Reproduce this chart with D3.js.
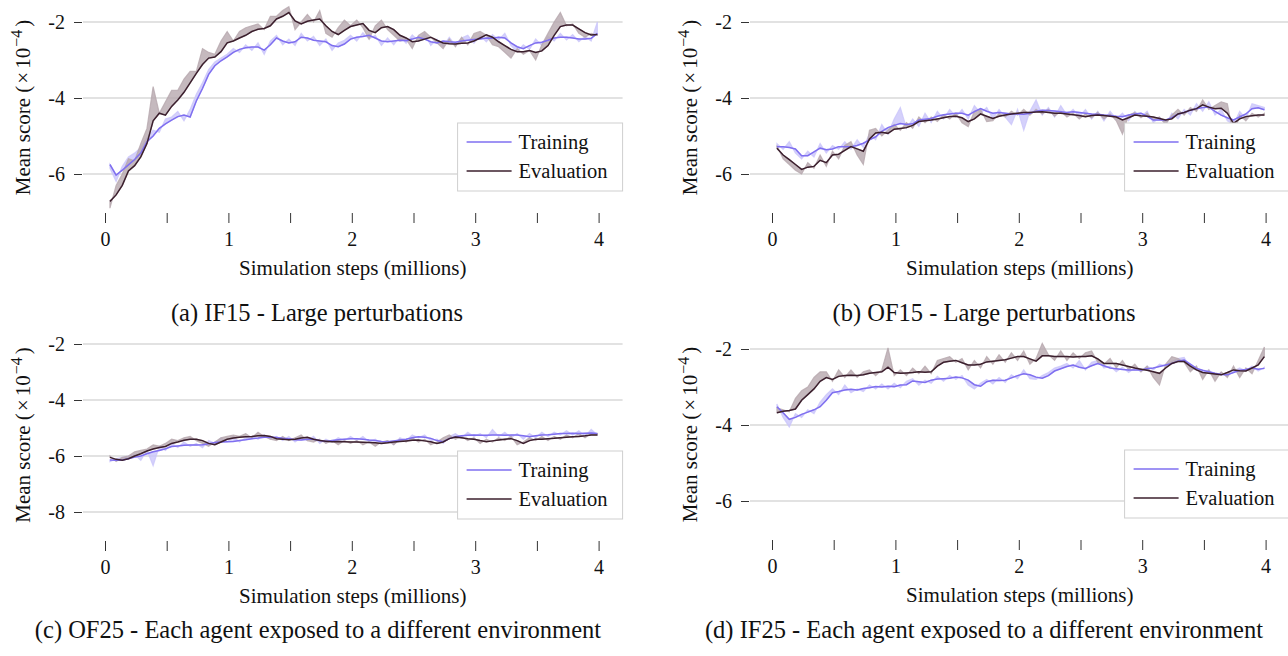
<!DOCTYPE html>
<html><head><meta charset="utf-8">
<script src="https://cdn.jsdelivr.net/npm/d3@7"></script>
<style>
body{margin:0;background:#fff}
svg{display:block}
text{font-family:"Liberation Serif","Times New Roman",serif;fill:#111}
</style>
</head><body>
<svg id="chart" width="1288" height="656"></svg>
<script>
// ---------------- DATA ----------------
const steps = d3.range(80).map(i => +(0.04 + 0.05 * i).toFixed(2)); // millions of simulation steps
const xTicks = [0, 0.5, 1, 1.5, 2, 2.5, 3, 3.5, 4];
const xTickLabels = ["0", "", "1", "", "2", "", "3", "", "4"];
const seriesNames = ["Training", "Evaluation"];
const captions = [
  "(a) IF15 - Large perturbations",
  "(b) OF15 - Large perturbations",
  "(c) OF25 - Each agent exposed to a different environment",
  "(d) IF25 - Each agent exposed to a different environment"
];
const yTicksA = [-2, -4, -6];
const yTicksB = [-2, -4, -6];
const yTicksC = [-2, -4, -6, -8];
const yTicksD = [-2, -4, -6];

// (a) IF15
const aTrainSmooth = [
 -5.75,-6.03,-5.90,-5.76,-5.62,-5.45,-5.15,-5.00,-4.80,-4.68,
 -4.58,-4.49,-4.45,-4.50,-4.08,-3.75,-3.38,-3.15,-3.02,-2.92,
 -2.80,-2.72,-2.68,-2.66,-2.66,-2.74,-2.60,-2.42,-2.50,-2.55,
 -2.52,-2.40,-2.42,-2.48,-2.50,-2.52,-2.62,-2.65,-2.58,-2.45,
 -2.40,-2.38,-2.35,-2.42,-2.50,-2.52,-2.50,-2.48,-2.49,-2.45,
 -2.40,-2.45,-2.52,-2.55,-2.50,-2.52,-2.53,-2.50,-2.48,-2.46,
 -2.45,-2.42,-2.43,-2.40,-2.42,-2.55,-2.65,-2.70,-2.62,-2.55,
 -2.53,-2.48,-2.42,-2.40,-2.40,-2.42,-2.45,-2.45,-2.43,-2.30];
const aTrainRaw = [
 -5.85,-6.20,-5.80,-5.55,-5.45,-5.30,-5.05,-4.85,-4.90,-4.55,
 -4.50,-4.35,-4.60,-4.30,-3.90,-3.60,-3.25,-3.05,-2.95,-2.85,
 -2.70,-2.80,-2.60,-2.75,-2.55,-2.85,-2.50,-2.35,-2.60,-2.45,
 -2.62,-2.30,-2.50,-2.38,-2.62,-2.45,-2.75,-2.55,-2.48,-2.35,
 -2.50,-2.28,-2.45,-2.35,-2.62,-2.42,-2.60,-2.38,-2.56,-2.34,
 -2.50,-2.30,-2.62,-2.45,-2.65,-2.40,-2.62,-2.42,-2.35,-2.56,
 -2.35,-2.52,-2.33,-2.47,-2.30,-2.62,-2.78,-2.60,-2.72,-2.45,
 -2.62,-2.38,-2.50,-2.30,-2.47,-2.33,-2.52,-2.38,-2.50,-2.00];
const aEvalSmooth = [
 -6.72,-6.55,-6.30,-5.92,-5.78,-5.55,-5.20,-4.60,-4.40,-4.45,
 -4.22,-4.05,-3.85,-3.60,-3.35,-3.12,-2.95,-2.92,-2.78,-2.55,
 -2.50,-2.42,-2.35,-2.25,-2.19,-2.17,-2.10,-1.92,-1.85,-1.75,
 -1.97,-2.05,-1.98,-1.95,-1.92,-2.10,-2.25,-2.33,-2.22,-2.12,
 -2.08,-2.04,-2.22,-2.28,-2.15,-2.12,-2.20,-2.35,-2.42,-2.52,
 -2.50,-2.45,-2.40,-2.48,-2.55,-2.57,-2.58,-2.56,-2.55,-2.50,
 -2.42,-2.34,-2.40,-2.52,-2.62,-2.72,-2.78,-2.78,-2.75,-2.80,
 -2.76,-2.62,-2.35,-2.12,-2.08,-2.08,-2.18,-2.28,-2.34,-2.33];
const aEvalRaw = [
 -6.90,-6.30,-6.00,-5.60,-5.65,-5.20,-4.80,-3.70,-4.40,-4.10,
 -3.80,-3.80,-3.50,-3.30,-3.30,-2.70,-2.80,-2.85,-2.50,-2.25,
 -2.50,-2.25,-2.15,-2.10,-2.05,-2.20,-1.85,-1.85,-1.70,-1.60,
 -2.20,-2.00,-1.80,-2.00,-1.70,-2.30,-2.40,-2.15,-1.95,-2.10,
 -1.95,-2.15,-2.45,-2.10,-1.95,-2.20,-2.35,-2.50,-2.45,-2.70,
 -2.35,-2.25,-2.40,-2.55,-2.70,-2.45,-2.65,-2.40,-2.60,-2.30,
 -2.25,-2.35,-2.60,-2.65,-2.80,-2.95,-2.70,-2.85,-2.75,-3.00,
 -2.60,-2.30,-2.00,-1.75,-2.10,-2.05,-2.30,-2.40,-2.30,-2.35];

// (b) OF15
const bTrainSmooth = [
 -5.28,-5.28,-5.30,-5.34,-5.52,-5.52,-5.42,-5.32,-5.36,-5.34,
 -5.28,-5.28,-5.28,-5.25,-5.19,-5.10,-5.02,-4.88,-4.78,-4.72,
 -4.67,-4.70,-4.68,-4.58,-4.56,-4.54,-4.48,-4.44,-4.42,-4.40,
 -4.40,-4.45,-4.36,-4.28,-4.35,-4.40,-4.38,-4.40,-4.42,-4.42,
 -4.43,-4.40,-4.35,-4.32,-4.33,-4.34,-4.36,-4.38,-4.36,-4.38,
 -4.40,-4.42,-4.43,-4.45,-4.46,-4.48,-4.49,-4.45,-4.42,-4.40,
 -4.48,-4.58,-4.58,-4.58,-4.52,-4.42,-4.38,-4.32,-4.28,-4.25,
 -4.24,-4.35,-4.45,-4.52,-4.58,-4.50,-4.42,-4.28,-4.26,-4.31];
const bTrainRaw = [
 -5.20,-5.35,-5.15,-5.45,-5.60,-5.40,-5.55,-5.20,-5.45,-5.25,
 -5.35,-5.15,-5.35,-5.10,-5.30,-4.95,-5.10,-4.70,-4.95,-4.55,
 -4.25,-4.80,-4.55,-4.75,-4.40,-4.65,-4.35,-4.55,-4.30,-4.50,
 -4.30,-4.55,-4.20,-4.40,-4.25,-4.55,-4.30,-4.50,-4.70,-4.30,
 -4.85,-4.35,-4.05,-4.45,-4.25,-4.50,-4.20,-4.45,-4.30,-4.50,
 -4.30,-4.55,-4.35,-4.60,-4.35,-4.55,-4.40,-4.60,-4.35,-4.50,
 -4.35,-4.65,-4.50,-4.70,-4.40,-4.55,-4.30,-4.45,-4.15,-4.35,
 -4.10,-4.45,-4.30,-4.60,-4.70,-4.35,-4.55,-4.15,-4.20,-4.25];
const bEvalSmooth = [
 -5.32,-5.50,-5.62,-5.75,-5.88,-5.82,-5.80,-5.64,-5.70,-5.50,
 -5.48,-5.38,-5.28,-5.34,-5.40,-5.08,-4.92,-4.90,-4.93,-4.82,
 -4.80,-4.78,-4.72,-4.62,-4.60,-4.58,-4.55,-4.52,-4.49,-4.48,
 -4.52,-4.62,-4.55,-4.42,-4.48,-4.54,-4.48,-4.45,-4.42,-4.40,
 -4.38,-4.38,-4.37,-4.36,-4.38,-4.40,-4.40,-4.42,-4.44,-4.46,
 -4.49,-4.46,-4.45,-4.46,-4.48,-4.50,-4.58,-4.52,-4.45,-4.47,
 -4.48,-4.50,-4.54,-4.58,-4.55,-4.42,-4.38,-4.32,-4.28,-4.18,
 -4.24,-4.28,-4.27,-4.40,-4.67,-4.55,-4.49,-4.47,-4.45,-4.45];
const bEvalRaw = [
 -5.25,-5.60,-5.75,-5.90,-6.00,-5.70,-5.85,-5.50,-5.80,-5.40,
 -5.60,-5.25,-5.15,-5.50,-5.75,-4.85,-4.80,-5.00,-4.85,-4.70,
 -4.85,-4.65,-4.80,-4.50,-4.65,-4.50,-4.62,-4.45,-4.55,-4.40,
 -4.65,-4.75,-4.35,-4.30,-4.62,-4.60,-4.40,-4.50,-4.35,-4.45,
 -4.30,-4.45,-4.30,-4.42,-4.30,-4.48,-4.35,-4.50,-4.40,-4.55,
 -4.42,-4.52,-4.38,-4.55,-4.42,-4.60,-4.95,-4.45,-4.38,-4.52,
 -4.40,-4.58,-4.50,-4.70,-4.45,-4.30,-4.45,-4.25,-4.35,-4.05,
 -4.30,-4.20,-4.10,-4.15,-5.00,-4.45,-4.60,-4.40,-4.50,-4.40];

// (c) OF25
const cTrainSmooth = [
 -6.14,-6.15,-6.14,-6.10,-6.04,-6.00,-5.92,-5.85,-5.80,-5.74,
 -5.66,-5.64,-5.62,-5.61,-5.61,-5.60,-5.56,-5.52,-5.50,-5.49,
 -5.48,-5.45,-5.42,-5.38,-5.36,-5.33,-5.32,-5.34,-5.37,-5.38,
 -5.42,-5.43,-5.40,-5.40,-5.45,-5.48,-5.45,-5.42,-5.40,-5.38,
 -5.38,-5.40,-5.43,-5.45,-5.48,-5.49,-5.46,-5.43,-5.40,-5.35,
 -5.31,-5.33,-5.37,-5.45,-5.49,-5.38,-5.31,-5.28,-5.26,-5.25,
 -5.26,-5.26,-5.25,-5.25,-5.26,-5.25,-5.25,-5.28,-5.31,-5.28,
 -5.25,-5.24,-5.22,-5.20,-5.20,-5.19,-5.20,-5.19,-5.18,-5.20];
const cTrainRaw = [
 -6.20,-6.10,-6.05,-6.00,-5.95,-6.15,-5.80,-6.35,-5.65,-5.80,
 -5.55,-5.70,-5.50,-5.65,-5.55,-5.70,-5.45,-5.55,-5.35,-5.50,
 -5.30,-5.50,-5.35,-5.30,-5.40,-5.25,-5.40,-5.30,-5.45,-5.30,
 -5.50,-5.35,-5.45,-5.30,-5.55,-5.40,-5.50,-5.35,-5.45,-5.30,
 -5.45,-5.30,-5.50,-5.40,-5.55,-5.45,-5.60,-5.35,-5.45,-5.25,
 -5.35,-5.25,-5.45,-5.40,-5.55,-5.30,-5.20,-5.35,-5.15,-5.30,
 -5.20,-5.35,-5.05,-5.30,-5.15,-5.35,-5.20,-5.40,-5.20,-5.35,
 -5.15,-5.30,-5.15,-5.25,-5.10,-5.25,-5.10,-5.30,-5.05,-5.25];
const cEvalSmooth = [
 -6.05,-6.12,-6.15,-6.10,-6.00,-5.92,-5.82,-5.75,-5.70,-5.66,
 -5.55,-5.50,-5.44,-5.40,-5.40,-5.45,-5.55,-5.60,-5.50,-5.40,
 -5.36,-5.33,-5.31,-5.30,-5.28,-5.27,-5.30,-5.38,-5.40,-5.42,
 -5.40,-5.36,-5.33,-5.40,-5.45,-5.47,-5.49,-5.48,-5.49,-5.50,
 -5.50,-5.51,-5.52,-5.53,-5.55,-5.53,-5.50,-5.48,-5.46,-5.44,
 -5.43,-5.46,-5.49,-5.55,-5.50,-5.38,-5.32,-5.35,-5.38,-5.40,
 -5.45,-5.49,-5.46,-5.43,-5.40,-5.38,-5.45,-5.55,-5.45,-5.40,
 -5.40,-5.38,-5.37,-5.35,-5.33,-5.31,-5.30,-5.28,-5.25,-5.25];
const cEvalRaw = [
 -6.00,-6.20,-6.05,-6.00,-5.85,-5.80,-5.75,-5.60,-5.65,-5.55,
 -5.40,-5.45,-5.35,-5.30,-5.45,-5.55,-5.65,-5.50,-5.35,-5.30,
 -5.25,-5.30,-5.20,-5.35,-5.15,-5.30,-5.40,-5.45,-5.30,-5.45,
 -5.35,-5.25,-5.45,-5.50,-5.40,-5.55,-5.45,-5.60,-5.45,-5.55,
 -5.45,-5.60,-5.50,-5.65,-5.50,-5.45,-5.60,-5.40,-5.50,-5.35,
 -5.50,-5.40,-5.60,-5.50,-5.35,-5.25,-5.40,-5.30,-5.45,-5.35,
 -5.55,-5.40,-5.50,-5.35,-5.45,-5.30,-5.60,-5.50,-5.35,-5.45,
 -5.30,-5.45,-5.30,-5.40,-5.25,-5.35,-5.20,-5.35,-5.20,-5.20];

// (d) IF25
const dTrainSmooth = [
 -3.52,-3.68,-3.85,-3.80,-3.72,-3.66,-3.60,-3.52,-3.35,-3.15,
 -3.12,-3.08,-3.06,-3.08,-3.04,-3.02,-2.99,-3.00,-2.98,-2.99,
 -2.95,-2.94,-2.84,-2.86,-2.88,-2.82,-2.79,-2.78,-2.77,-2.74,
 -2.76,-2.82,-2.94,-2.98,-2.86,-2.82,-2.83,-2.82,-2.76,-2.70,
 -2.65,-2.68,-2.74,-2.77,-2.70,-2.58,-2.52,-2.46,-2.42,-2.48,
 -2.51,-2.44,-2.38,-2.44,-2.50,-2.52,-2.54,-2.55,-2.55,-2.55,
 -2.52,-2.50,-2.46,-2.42,-2.38,-2.32,-2.29,-2.40,-2.51,-2.56,
 -2.60,-2.64,-2.67,-2.68,-2.62,-2.56,-2.54,-2.50,-2.53,-2.51];
const dTrainRaw = [
 -3.45,-3.80,-4.05,-3.70,-3.80,-3.60,-3.70,-3.40,-3.20,-3.05,
 -3.20,-2.95,-3.15,-3.05,-3.12,-2.95,-3.05,-2.92,-3.05,-2.90,
 -3.02,-2.85,-2.78,-2.95,-2.82,-2.90,-2.72,-2.85,-2.70,-2.80,
 -2.70,-2.95,-3.05,-2.90,-2.80,-2.92,-2.75,-2.88,-2.68,-2.78,
 -2.55,-2.78,-2.80,-2.70,-2.62,-2.50,-2.45,-2.38,-2.50,-2.30,
 -2.55,-2.35,-2.30,-2.50,-2.45,-2.60,-2.48,-2.62,-2.50,-2.60,
 -2.45,-2.55,-2.40,-2.45,-2.32,-2.25,-2.22,-2.50,-2.55,-2.62,
 -2.55,-2.70,-2.62,-2.72,-2.58,-2.50,-2.58,-2.45,-2.58,-2.48];
const dEvalSmooth = [
 -3.68,-3.64,-3.62,-3.58,-3.35,-3.20,-3.05,-2.85,-2.75,-2.80,
 -2.72,-2.70,-2.69,-2.70,-2.68,-2.64,-2.62,-2.60,-2.48,-2.62,
 -2.64,-2.63,-2.62,-2.60,-2.61,-2.60,-2.45,-2.35,-2.32,-2.30,
 -2.36,-2.42,-2.42,-2.40,-2.34,-2.32,-2.30,-2.28,-2.24,-2.20,
 -2.20,-2.26,-2.32,-2.18,-2.18,-2.20,-2.20,-2.20,-2.21,-2.20,
 -2.20,-2.18,-2.26,-2.38,-2.38,-2.38,-2.42,-2.46,-2.50,-2.53,
 -2.56,-2.60,-2.64,-2.50,-2.38,-2.33,-2.33,-2.45,-2.55,-2.62,
 -2.64,-2.66,-2.68,-2.62,-2.55,-2.57,-2.58,-2.50,-2.42,-2.20];
const dEvalRaw = [
 -3.55,-3.60,-3.65,-3.30,-3.10,-3.00,-2.75,-2.60,-2.60,-2.85,
 -2.55,-2.75,-2.55,-2.75,-2.60,-2.55,-2.70,-2.55,-1.97,-2.70,
 -2.55,-2.70,-2.50,-2.65,-2.45,-2.65,-2.30,-2.25,-2.20,-2.35,
 -2.25,-2.55,-2.30,-2.50,-2.20,-2.40,-2.15,-2.35,-2.10,-2.30,
 -2.05,-2.40,-2.25,-1.85,-2.15,-2.30,-2.05,-2.30,-2.10,-2.25,
 -2.10,-2.05,-2.35,-2.40,-2.25,-2.50,-2.30,-2.55,-2.40,-2.60,
 -2.45,-2.75,-2.95,-2.40,-2.20,-2.25,-2.35,-2.60,-2.45,-2.80,
 -2.55,-2.85,-2.60,-2.75,-2.45,-2.75,-2.50,-2.65,-2.30,-1.95];

// ---------------- LAYOUT / STYLE ----------------
const C = {
  trainLine: "#7f6ff0", trainBand: "#cbc5fa",
  evalLine: "#3b1f2d",  evalBand: "#b6a8ae",
  grid: "#d8d8d8", tick: "#333", legendBorder: "#cfcfcf"
};
const FS_TICK = 20, FS_LABEL = 21, FS_LEG = 20.5, FS_CAP = 24.5;
const panels = [
  {cap: captions[0], ts: aTrainSmooth, tr: aTrainRaw, es: aEvalSmooth, er: aEvalRaw,
   yTicks: yTicksA, yDom: [-7, -1.5], x0: 105, top: 3, bottom: 212, capX: 317, capY: 321},
  {cap: captions[1], ts: bTrainSmooth, tr: bTrainRaw, es: bEvalSmooth, er: bEvalRaw,
   yTicks: yTicksB, yDom: [-7, -1.5], x0: 772, top: 3, bottom: 212, capX: 984, capY: 321},
  {cap: captions[2], ts: cTrainSmooth, tr: cTrainRaw, es: cEvalSmooth, er: cEvalRaw,
   yTicks: yTicksC, yDom: [-9, -1.5], x0: 105, top: 330, bottom: 540, capX: 318, capY: 638},
  {cap: captions[3], ts: dTrainSmooth, tr: dTrainRaw, es: dEvalSmooth, er: dEvalRaw,
   yTicks: yTicksD, yDom: [-7, -1.5], x0: 772, top: 330, bottom: 539, capX: 984, capY: 638}
];

const svg = d3.select("#chart");

panels.forEach(p => {
  const g = svg.append("g");
  const x = d3.scaleLinear().domain([0, 4]).range([p.x0, p.x0 + 4 * 123.4]);
  const y = d3.scaleLinear().domain(p.yDom).range([p.bottom, p.top]);
  const gl = x(0) - 22, gr = x(4) + 24;

  // gridlines
  g.append("g").selectAll("line").data(p.yTicks).join("line")
    .attr("x1", gl).attr("x2", gr)
    .attr("y1", d => y(d)).attr("y2", d => y(d))
    .attr("stroke", C.grid).attr("stroke-width", 1.5);

  // y axis
  const ya = g.append("g").attr("transform", `translate(${gl - 1},0)`)
    .call(d3.axisLeft(y).tickValues(p.yTicks).tickSize(8).tickPadding(9)
      .tickFormat(d => String(d)));
  ya.select(".domain").remove();
  ya.selectAll(".tick line").attr("stroke", C.tick);
  ya.selectAll(".tick text").attr("font-size", FS_TICK).attr("font-family", null).attr("fill", "#111");

  // x axis
  const xa = g.append("g").attr("transform", `translate(0,${p.bottom + 1})`)
    .call(d3.axisBottom(x).tickValues(xTicks).tickSize(10).tickPadding(9)
      .tickFormat((d, i) => xTickLabels[i]));
  xa.select(".domain").remove();
  xa.selectAll(".tick line").attr("stroke", C.tick);
  xa.selectAll(".tick text").attr("font-size", FS_TICK).attr("font-family", null).attr("fill", "#111");

  // axis titles
  g.append("text").attr("x", x(2) + 1).attr("y", p.bottom + 63)
    .attr("text-anchor", "middle").attr("font-size", FS_LABEL)
    .text("Simulation steps (millions)");
  const yl = g.append("text")
    .attr("transform", `translate(${p.x0 - 75},${(p.top + p.bottom) / 2}) rotate(-90)`)
    .attr("text-anchor", "middle").attr("font-size", FS_LABEL);
  yl.append("tspan").text("Mean score (");
  yl.append("tspan").attr("dx", 2).text("×");
  yl.append("tspan").attr("dx", 3).text("10");
  yl.append("tspan").attr("dy", -8).attr("dx", 1).attr("font-size", 16).text("−4");
  yl.append("tspan").attr("dy", 8).attr("dx", 3).text(")");

  // bands and lines
  const band = (smooth) => d3.area()
    .x((d, i) => x(steps[i])).y0((d, i) => y(smooth[i])).y1(d => y(d));
  const line = d3.line().x((d, i) => x(steps[i])).y(d => y(d));

  g.append("path").datum(p.tr).attr("d", band(p.ts))
    .attr("fill", C.trainBand).attr("fill-opacity", 0.8)
    .attr("stroke", C.trainBand).attr("stroke-width", 1.2).attr("stroke-opacity", 0.8);
  g.append("path").datum(p.er).attr("d", band(p.es))
    .attr("fill", C.evalBand).attr("fill-opacity", 0.8)
    .attr("stroke", C.evalBand).attr("stroke-width", 1.2).attr("stroke-opacity", 0.8);
  g.append("path").datum(p.ts).attr("d", line)
    .attr("fill", "none").attr("stroke", C.trainLine).attr("stroke-width", 1.5);
  g.append("path").datum(p.es).attr("d", line)
    .attr("fill", "none").attr("stroke", C.evalLine).attr("stroke-width", 1.5);

  // legend
  const lx = gr - 165, ly = p.bottom - 89;
  const lg = g.append("g").attr("transform", `translate(${lx},${ly})`);
  lg.append("rect").attr("width", 165).attr("height", 68)
    .attr("fill", "#fff").attr("stroke", C.legendBorder).attr("stroke-width", 1);
  const lcol = [C.trainLine, C.evalLine];
  seriesNames.forEach((n, i) => {
    lg.append("line").attr("x1", 9).attr("x2", 54)
      .attr("y1", 19 + i * 29).attr("y2", 19 + i * 29)
      .attr("stroke", lcol[i]).attr("stroke-width", 1.5);
    lg.append("text").attr("x", 61).attr("y", 26 + i * 28.5)
      .attr("font-size", FS_LEG).text(n);
  });

  // caption
  svg.append("text").attr("x", p.capX).attr("y", p.capY)
    .attr("text-anchor", "middle").attr("font-size", FS_CAP).text(p.cap);
});
</script>
</body></html>
